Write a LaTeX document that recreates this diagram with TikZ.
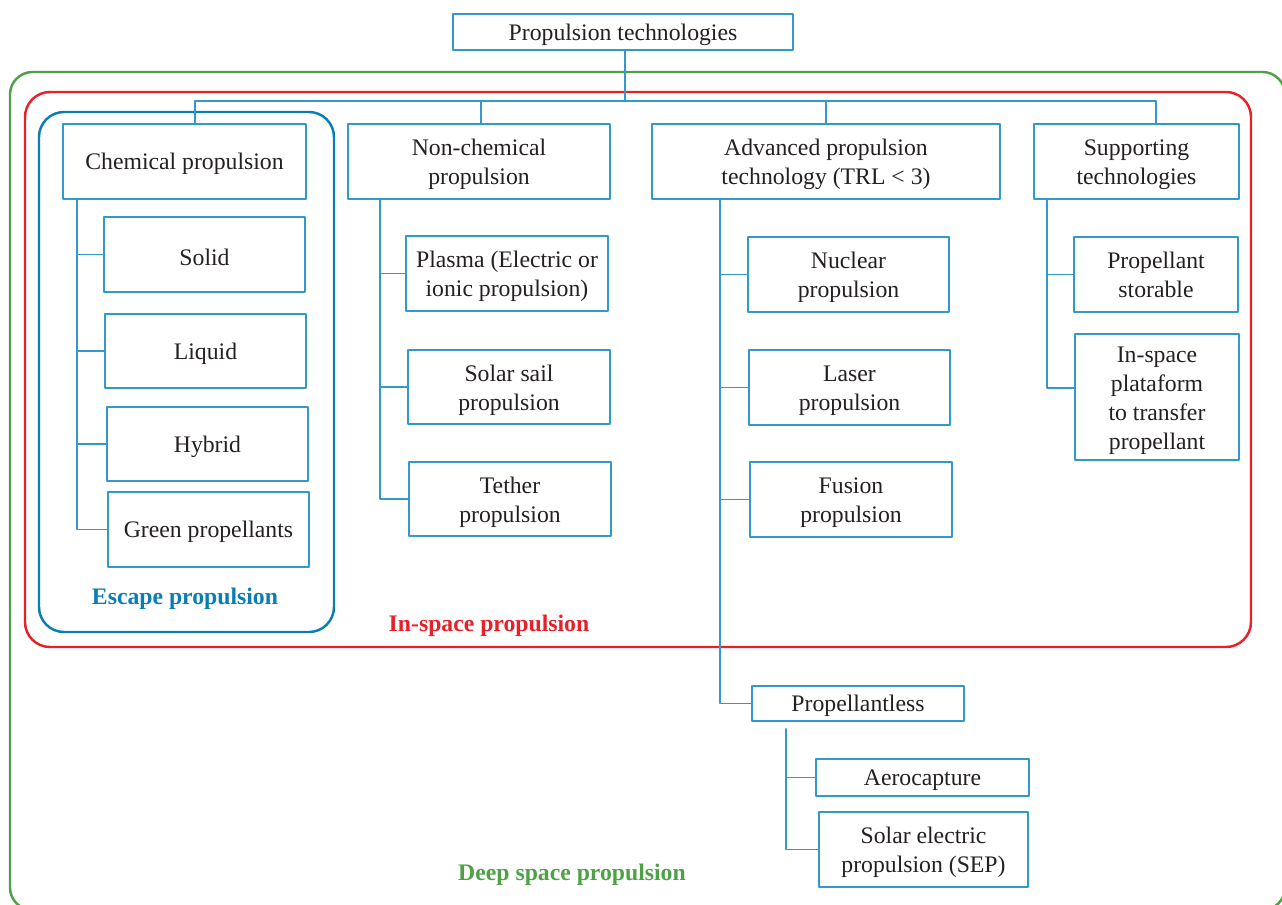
\documentclass[tikz,border=0pt]{standalone}
\usepackage{fontspec}
\setmainfont{Liberation Serif}
\usepackage{tikz}
\definecolor{linkblue}{rgb}{0.2,0.6,0.8}
\definecolor{escblue}{rgb}{0.04,0.49,0.71}
\definecolor{inred}{rgb}{0.91,0.13,0.16}
\definecolor{deepgreen}{rgb}{0.31,0.63,0.28}
\definecolor{txtgray}{rgb}{0.14,0.12,0.13}
\tikzset{
  tbox/.style={draw=linkblue,line width=0.75pt,inner sep=0pt,outer sep=0pt,align=center,text=txtgray,minimum width=4.02cm,minimum height=1.5cm,
    execute at begin node={\rule{0pt}{12.3pt}}},
  tboxm/.style={tbox,align=flush center,text width=#1,execute at begin node={\rule{0pt}{13.9pt}},execute at end node={\rule[-4pt]{0pt}{0pt}}},
  tboxm/.default=3.9cm,
  link/.style={draw=linkblue,line width=0.75pt},
  zone/.style={line width=1.4pt,rounded corners=0.5cm},
  zonelbl/.style={font=\fontsize{13.5}{16.5}\selectfont\bfseries}
}

\begin{document}
\begin{tikzpicture}[line cap=round,line join=round,x=0.02cm,y=-0.02cm,font=\fontsize{13.5}{16.5}\selectfont]
      \useasboundingbox (0,0) rectangle (1282,904);
      \clip (0,0) rectangle (1282,904);
      % zones
      \draw [zone,color=deepgreen,rounded corners=0.45cm] (10,72) rectangle (1285,910);
      \draw [zone,color=inred] (25,92) rectangle (1251,647);
      \draw [zone,color=escblue] (39,112) rectangle (334,632);
      % boxes
      \node [tbox,minimum width=6.8cm,minimum height=0.72cm] (top) at (623,32) {Propulsion technologies};
      \node [tbox,minimum width=4.86cm] (chem) at (184.5,161.5) {Chemical propulsion};
      \node [tboxm=5cm,minimum width=5.24cm] (noncm) at (479,161.5) {Non-chemical\\propulsion};
      \node [tboxm=6.8cm,minimum width=6.96cm] (adv) at (826,161.5) {Advanced propulsion\\technology (TRL < 3)};
      \node [tboxm=4cm,minimum width=4.1cm] (supp) at (1136.5,161.5) {Supporting\\technologies};
      \node [tbox] (solid) at (204.5,254.5) {Solid};
      \node [tbox,minimum height=1.48cm] (liquid) at (205.5,351) {Liquid};
      \node [tbox,minimum height=1.48cm] (hybrid) at (207.5,444) {Hybrid};
      \node [tbox] (green) at (208.5,529.5) {Green propellants};
      \node [tboxm=4cm,minimum width=4.04cm] (plasma) at (507,273.5) {Plasma (Electric or\\ionic propulsion)};
      \node [tboxm,minimum width=4.04cm,minimum height=1.48cm] (sail) at (509,387) {Solar sail\\propulsion};
      \node [tboxm,minimum width=4.04cm,minimum height=1.48cm] (tether) at (510,499) {Tether\\propulsion};
      \node [tboxm] (nuclear) at (848.5,274.5) {Nuclear\\propulsion};
      \node [tboxm] (laser) at (849.5,387.5) {Laser\\propulsion};
      \node [tboxm,minimum width=4.04cm] (fusion) at (851,499.5) {Fusion\\propulsion};
      \node [tbox,minimum width=4.24cm,minimum height=0.7cm] (propless) at (858,703.5) {Propellantless};
      \node [tbox,minimum width=4.26cm,minimum height=0.74cm] (aero) at (922.5,777.5) {Aerocapture};
      \node [tboxm=4cm,minimum width=4.18cm] (sep) at (923.5,849.5) {Solar electric\\propulsion (SEP)};
      \node [tboxm=3.2cm,minimum width=3.28cm] (storable) at (1156,274.5) {Propellant\\storable};
      \node [tboxm=3.2cm,minimum width=3.28cm,minimum height=2.52cm] (inspace) at (1157,397) {In-space\\plataform\\to transfer\\propellant};
      % zone labels
      \node [zonelbl,text=escblue] (esclbl) at (185,599) {Escape propulsion};
      \node [zonelbl,text=inred] (inlbl) at (489,626) {In-space propulsion};
      \node [zonelbl,text=deepgreen] (deeplbl) at (572,875) {Deep space propulsion};
      % connectors
      \coordinate (bus) at (625,101);
      \coordinate (d1) at (195,101);
      \coordinate (d2) at (481,101);
      \coordinate (d3) at (826,101);
      \coordinate (d4) at (1156,101);
      \draw [link] (top.south -| bus) -- (bus);
      \draw [link] (chem.north -| d1) -- (d1) -- (d4) -- (supp.north -| d4);
      \draw [link] (d2) -- (noncm.north -| d2);
      \draw [link] (d3) -- (adv.north -| d3);
      \coordinate (t1) at (77,199);
      \coordinate (t2) at (380,199);
      \coordinate (t3) at (720,199);
      \coordinate (t4) at (1047,199);
      \coordinate (t5) at (786,729);
      \foreach \c in {solid,liquid,hybrid,green}
        \draw [link] (t1) |- (\c.west);
      \foreach \c in {plasma,sail,tether}
        \draw [link] (t2) |- (\c.west);
      \foreach \c in {nuclear,laser,fusion,propless}
        \draw [link] (t3) |- (\c.west);
      \draw [link] (t4) |- (storable.west);
      \draw [link] (t4) |- ([yshift=0.18cm]inspace.west);
      \foreach \c in {aero,sep}
        \draw [link] (t5) |- (\c.west);
\end{tikzpicture}
\end{document}
